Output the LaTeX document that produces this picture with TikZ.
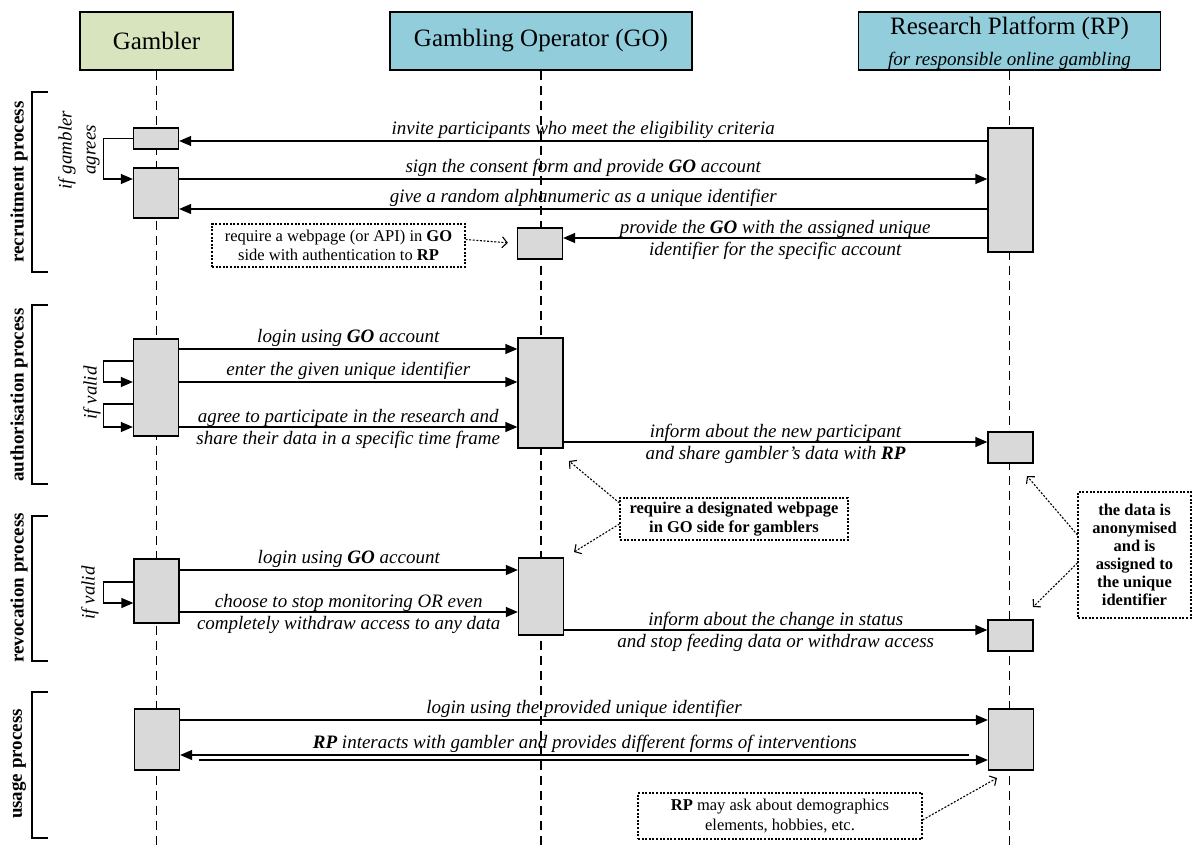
\documentclass[tikz,border=0pt]{standalone}
\usepackage{fontspec}
\setmainfont{Liberation Serif}
\usetikzlibrary{arrows.meta}
\usetikzlibrary{calc}
\definecolor{gamblergreen}{RGB}{215,228,189}
\definecolor{headerblue}{RGB}{146,205,220}
\definecolor{actgray}{RGB}{217,217,217}

\begin{document}
\begin{tikzpicture}[x=1pt, y=-1pt,
      header/.style={draw, line width=1.3pt, minimum height=58pt, inner sep=0pt, align=center, font=\fontsize{25}{28}\selectfont},
      lifeline/.style={line width=1.5pt, dash pattern=on 9pt off 6pt},
      act box/.style={draw, fill=actgray, line width=1.3pt, minimum width=45pt, inner sep=0pt},
      message/.style={line width=1.3pt, -{Triangle[length=12pt,width=10pt]}},
      message label/.style={font=\fontsize{19}{22}\selectfont\itshape, align=center, inner sep=2pt},
      two lines/.style={message label, midway, yshift=-2pt},
      dotted note/.style={draw, line width=1.1pt, dash pattern=on 2pt off 1.6pt, align=center, inner sep=0pt, font=\fontsize{16.5}{19.5}\selectfont},
      note arrow/.style={line width=1.1pt, dash pattern=on 2pt off 1.6pt, -{Straight Barb[length=5pt,width=11pt]}},
      bracket line/.style={line width=1.5pt},
      process label/.style={rotate=90, font=\fontsize{19}{22}\selectfont\bfseries},
      cond label/.style={rotate=90, align=center, font=\fontsize{19}{24}\selectfont\itshape}
      ]
      \useasboundingbox (0,0) rectangle (1192,853);

      % headers
      \node[header, fill=gamblergreen, minimum width=153pt] (Gambler) at (156.5,41) {Gambler};
      \node[header, fill=headerblue, minimum width=302pt] (GO) at (541,41) {Gambling Operator (GO)};
      \node[header, fill=headerblue, minimum width=302pt, text depth=0pt] (RP) at (1009.5,41)
            {Research Platform (RP)\\[3pt]{\fontsize{19}{22}\selectfont\itshape for responsible online gambling}};

      % lifelines
      \coordinate (lifeEnd) at (0,848);
      \draw[lifeline] (Gambler.south) -- (Gambler.south |- lifeEnd);
      \draw[lifeline] (GO.south) -- (GO.south |- lifeEnd);
      \draw[lifeline] (RP.south) -- (RP.south |- lifeEnd);

      % process brackets
      \draw[bracket line] (48,92) -- (32,92) -- (32,272) -- (48,272);
      \draw[bracket line] (48,305) -- (32,305) -- (32,484) -- (48,484);
      \draw[bracket line] (48,516) -- (32,516) -- (32,661) -- (48,661);
      \draw[bracket line] (48,692) -- (32,692) -- (32,838) -- (48,838);
      \node[process label] (Recruitment) at (19,182) {recruitment process};
      \node[process label] (Authorisation) at (19,395) {authorisation process};
      \node[process label] (Revocation) at (19,588) {revocation process};
      \node[process label] (Usage) at (19,764) {usage process};

      \node[cond label] (CondAgree) at (79,150) {if gambler\\agrees};
      \node[cond label] (CondValidA) at (92,393) {if valid};
      \node[cond label] (CondValidR) at (90,593) {if valid};

      % activation boxes
      \node[act box, minimum height=21pt] (GamInvite) at (156,138.5) {};
      \node[act box, minimum height=50pt] (GamId) at (156,193) {};
      \node[act box, minimum height=124pt] (RPRecruit) at (1010.5,190) {};
      \node[act box, minimum height=31pt] (GORecruit) at (540,243.5) {};

      \node[act box, minimum height=97pt] (GamAuth) at (156,387.5) {};
      \node[act box, minimum height=110pt] (GOAuth) at (540.5,393) {};
      \node[act box, minimum height=31pt] (RPAuth) at (1010.5,447.5) {};

      \node[act box, minimum height=64pt] (GamRevoke) at (156.5,591) {};
      \node[act box, minimum height=77pt] (GORevoke) at (541,596.5) {};
      \node[act box, minimum height=31pt] (RPRevoke) at (1010.5,635.5) {};

      \node[act box, minimum height=61pt] (GamUse) at (157,739.5) {};
      \node[act box, minimum height=61pt] (RPUse) at (1011,739.5) {};

      % message levels
      \coordinate (loopX) at (103.5,0);
      \coordinate (yInvite) at (0,141);
      \coordinate (ySign) at (0,179);
      \coordinate (yGive) at (0,209);
      \coordinate (yProvide) at (0,238);
      \coordinate (yLogin) at (0,349);
      \coordinate (yLoopA) at (0,361);
      \coordinate (yEnter) at (0,382);
      \coordinate (yLoopB) at (0,404);
      \coordinate (yAgree) at (0,427);
      \coordinate (yInform) at (0,442);
      \coordinate (yLoginR) at (0,570);
      \coordinate (yLoopC) at (0,582);
      \coordinate (yLoopD) at (0,603);
      \coordinate (yChoose) at (0,612);
      \coordinate (yChange) at (0,630);
      \coordinate (yUse) at (0,720);
      \coordinate (interactStart) at (969,755);
      \coordinate (backStart) at (199,760);

      % recruitment
      \draw[message] (RPRecruit.west |- yInvite) -- (GamInvite.east |- yInvite)
            node[message label, midway, above] {invite participants who meet the eligibility criteria};
      \draw[message] (GamInvite.west) -- (loopX |- GamInvite.west) -- (loopX |- ySign) -- (GamId.west |- ySign);
      \draw[message] (GamId.east |- ySign) -- (RPRecruit.west |- ySign)
            node[message label, midway, above] {sign the consent form and provide \textbf{GO} account};
      \draw[message] (RPRecruit.west |- yGive) -- (GamId.east |- yGive)
            node[message label, midway, above] {give a random alphanumeric as a unique identifier};
      \draw[message] (RPRecruit.west |- yProvide) -- (GORecruit.east |- yProvide)
            node[two lines] {provide the \textbf{GO} with the assigned unique\\identifier for the specific account};

      \node[dotted note, minimum width=253pt, minimum height=43pt] (NoteAPI) at (338.5,245.5)
            {require a webpage (or API) in \textbf{GO}\\side with authentication to \textbf{RP}};
      \draw[note arrow, shorten >=9pt] ([yshift=6pt]NoteAPI.east) -- (GORecruit.west);

      % authorisation
      \draw[message] (GamAuth.east |- yLogin) -- (GOAuth.west |- yLogin)
            node[message label, midway, above] {login using \textbf{GO} account};
      \draw[message] (GamAuth.west |- yLoopA) -- (loopX |- yLoopA) -- (loopX |- yEnter) -- (GamAuth.west |- yEnter);
      \draw[message] (GamAuth.east |- yEnter) -- (GOAuth.west |- yEnter)
            node[message label, midway, above] {enter the given unique identifier};
      \draw[message] (GamAuth.west |- yLoopB) -- (loopX |- yLoopB) -- (loopX |- yAgree) -- (GamAuth.west |- yAgree);
      \draw[message] (GamAuth.east |- yAgree) -- (GOAuth.west |- yAgree)
            node[two lines] {agree to participate in the research and\\share their data in a specific time frame};
      \draw[message] (GOAuth.east |- yInform) -- (RPAuth.west |- yInform)
            node[two lines] {inform about the new participant\\and share gambler's data with \textbf{RP}};

      % revocation
      \draw[message] (GamRevoke.east |- yLoginR) -- (GORevoke.west |- yLoginR)
            node[message label, midway, above] {login using \textbf{GO} account};
      \draw[message] (GamRevoke.west |- yLoopC) -- (loopX |- yLoopC) -- (loopX |- yLoopD) -- (GamRevoke.west |- yLoopD);
      \draw[message] (GamRevoke.east |- yChoose) -- (GORevoke.west |- yChoose)
            node[two lines] {choose to stop monitoring OR even\\completely withdraw access to any data};
      \draw[message] (GORevoke.east |- yChange) -- (RPRevoke.west |- yChange)
            node[two lines] {inform about the change in status\\and stop feeding data or withdraw access};

      \node[dotted note, minimum width=228pt, minimum height=42pt, font=\fontsize{16.5}{19.5}\selectfont\bfseries] (NoteWeb) at (734,519)
            {require a designated webpage\\in GO side for gamblers};
      \coordinate (webTipA) at (569,461);
      \coordinate (webTipB) at (574,552);
      \draw[note arrow] ([yshift=16pt]NoteWeb.west) -- (webTipA);
      \draw[note arrow] ([yshift=-5pt]NoteWeb.west) -- (webTipB);

      \node[dotted note, minimum width=113pt, minimum height=126pt, font=\fontsize{16.5}{18}\selectfont\bfseries] (NoteData) at (1134.5,555)
            {the data is\\anonymised\\and is\\assigned to\\the unique\\identifier};
      \coordinate (dataTipA) at (1027,476);
      \coordinate (dataTipB) at (1033,607);
      \draw[note arrow] ([yshift=20pt]NoteData.west) -- (dataTipA);
      \draw[note arrow] ([yshift=-8pt]NoteData.west) -- (dataTipB);

      % usage
      \draw[message] (GamUse.east |- yUse) -- (RPUse.west |- yUse)
            node[message label, midway, above] {login using the provided unique identifier};
      \draw[message] (interactStart) -- (GamUse.east |- interactStart)
            node[message label, pos=0.487, above] {\textbf{RP} interacts with gambler and provides different forms of interventions};
      \draw[message] (backStart) -- (RPUse.west |- backStart);

      \node[dotted note, minimum width=284pt, minimum height=46pt] (NoteRP) at (780,816)
            {\textbf{RP} may ask about demographics\\elements, hobbies, etc.};
      \coordinate (rpTip) at (997,778);
      \draw[note arrow] ([yshift=-4pt]NoteRP.east) -- (rpTip);
    \end{tikzpicture}
\end{document}
